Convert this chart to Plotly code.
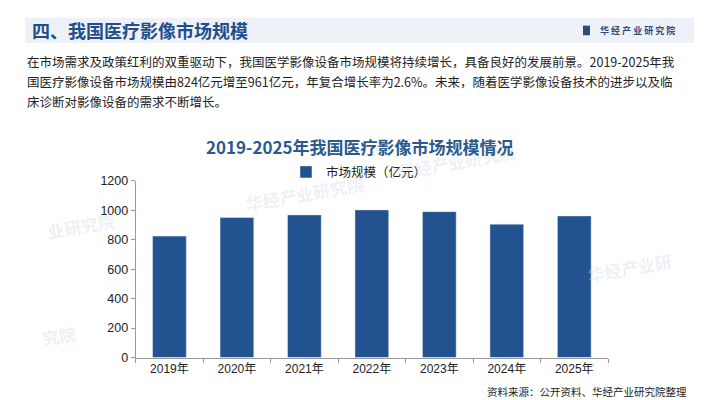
import plotly.graph_objects as go

years = ["2019年", "2020年", "2021年", "2022年", "2023年", "2024年", "2025年"]
market_size = [824, 950, 968, 1002, 990, 905, 961]
y_ticks = [0, 200, 400, 600, 800, 1000, 1200]

header = "四、我国医疗影像市场规模"
intro_lines = [
    "在市场需求及政策红利的双重驱动下，我国医学影像设备市场规模将持续增长，具备良好的发展前景。2019-2025年我",
    "国医疗影像设备市场规模由824亿元增至961亿元，年复合增长率为2.6%。未来，随着医学影像设备技术的进步以及临",
    "床诊断对影像设备的需求不断增长。",
]
chart_title = "2019-2025年我国医疗影像市场规模情况"
source = "资料来源：公开资料、华经产业研究院整理"
watermark = "华经产业研究院"

W, H = 705, 400
FONT = "Noto Sans CJK SC"
BLUE = "#22528f"

fig = go.Figure()
fig.add_trace(go.Bar(x=years, y=market_size, name="市场规模（亿元）",
                     marker_color=BLUE, width=0.5))

# faint watermarks (px positions)
for wx, wy, text in [(233, 185, watermark), (448, 152, watermark), (35, 218, "业研究院"),
                     (668, 262, "华经产业研"), (30, 350, "究院")]:
    fig.add_annotation(text="<b>" + text + "</b>", xref="paper", yref="paper",
                       x=wx / W, y=1 - wy / H, showarrow=False, textangle=-10,
                       font=dict(family=FONT, size=17, color="rgba(205,212,224,0.35)"))

# header band
fig.add_shape(type="rect", xref="paper", yref="paper",
              x0=17 / W, x1=686 / W, y0=1 - 29 / H, y1=1 - 3 / H,
              fillcolor="#eef2f8", line_width=0, layer="below")
fig.add_annotation(text="<b>" + header + "</b>", xref="paper", yref="paper",
                   x=22 / W, y=1 - 16 / H, xanchor="left", yanchor="middle",
                   showarrow=False, font=dict(family=FONT, size=18, color="#1f4e8c"))
fig.add_shape(type="rect", xref="paper", yref="paper",
              x0=575 / W, x1=582 / W, y0=1 - 21 / H, y1=1 - 11 / H,
              fillcolor="#2a4d7e", line_width=0)
fig.add_annotation(text="<b>华 经 产 业 研 究 院</b>", xref="paper", yref="paper",
                   x=590 / W, y=1 - 16 / H, xanchor="left", yanchor="middle",
                   showarrow=False, font=dict(family=FONT, size=9, color="#2a4d7e"))

for i, line in enumerate(intro_lines):
    fig.add_annotation(text=line, xref="paper", yref="paper",
                       x=17 / W, y=1 - (48 + i * 21) / H, xanchor="left", yanchor="middle",
                       showarrow=False, font=dict(family=FONT, size=12.5, color="#222222"))

fig.add_annotation(text="<b>" + chart_title + "</b>", xref="paper", yref="paper",
                   x=352 / W, y=1 - 136 / H, xanchor="center", yanchor="middle",
                   showarrow=False, font=dict(family=FONT, size=17, color="#2b5a8f"))

fig.add_annotation(text=source, xref="paper", yref="paper",
                   x=681 / W, y=1 - 390 / H, xanchor="right", yanchor="middle",
                   showarrow=False, font=dict(family=FONT, size=10.5, color="#222222"))

fig.update_layout(
    width=W, height=H,
    margin=dict(l=0, r=0, t=0, b=0),
    paper_bgcolor="white", plot_bgcolor="rgba(0,0,0,0)",
    font=dict(family=FONT, size=12, color="#222222"),
    showlegend=True,
    legend=dict(orientation="h", x=278 / W, y=1 - 163 / H, xanchor="left", yanchor="middle",
                font=dict(size=12.5), bgcolor="rgba(0,0,0,0)", itemwidth=30),
    bargap=0.5,
)
fig.update_xaxes(domain=[127.7 / W, 600 / W], showline=True, linecolor="#999999",
                 ticks="outside", tickson="boundaries", ticklen=4, tickcolor="#999999",
                 showgrid=False, tickfont=dict(family="Liberation Sans, " + FONT, size=12))
fig.update_yaxes(domain=[1 - 355 / H, 1 - 171.7 / H], range=[0, 1200], tickvals=y_ticks,
                 showline=True, linecolor="#999999", ticks="outside", ticklen=4,
                 tickcolor="#999999", showgrid=False, zeroline=False,
                 tickfont=dict(family="Liberation Sans", size=12.5))

fig.write_html("out.html")
